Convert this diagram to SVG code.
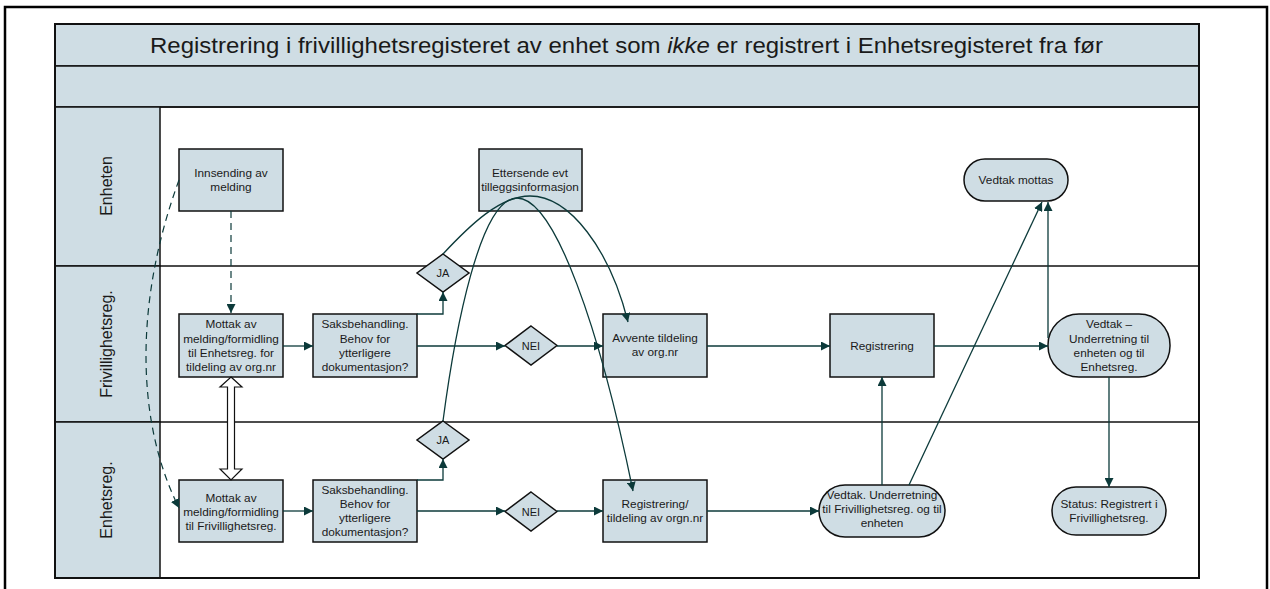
<svg xmlns="http://www.w3.org/2000/svg" width="1270" height="589" viewBox="0 0 1270 589">
<defs>
<marker id="ah" viewBox="0 0 10 10" refX="10" refY="5" markerWidth="9" markerHeight="9" markerUnits="userSpaceOnUse" orient="auto">
<path d="M0,0 L10,5 L0,10 z" fill="#0c3a3a"/>
</marker>
</defs>
<style>
text{font-family:"Liberation Sans",Arial,sans-serif;fill:#1a1a1a}
.band{fill:#cfdde4;stroke:#111;stroke-width:1.5}
.node{fill:#cfdde4;stroke:#111;stroke-width:1.5}
.t{font-size:11.8px;text-anchor:middle}
.lane{font-size:16px;text-anchor:middle}
.lane-line{stroke:#111;stroke-width:1.5;fill:none}
.ca{fill:none;stroke:#0c3a3a;stroke-width:1.3;marker-end:url(#ah)}
.dash{fill:none;stroke:#0c3a3a;stroke-width:1.2;stroke-dasharray:7,5;marker-end:url(#ah)}
</style>
<rect x="0" y="0" width="1270" height="589" fill="#fff"/>
<rect x="5" y="7" width="1262" height="620" fill="none" stroke="#000" stroke-width="2.5"/>

<g id="pool">
<rect x="55" y="24" width="1144" height="554" fill="#fff" stroke="#111" stroke-width="2"/>
<rect class="band" x="55" y="24" width="1144" height="42"/>
<rect class="band" x="55" y="66" width="1144" height="41"/>
<text x="150" y="53" textLength="953" lengthAdjust="spacingAndGlyphs" style="font-size:22px">Registrering i frivillighetsregisteret av enhet som <tspan font-style="italic">ikke</tspan> er registrert i Enhetsregisteret fra før</text>
</g>

<g id="lane-enheten">
<rect class="band" x="55" y="107" width="105" height="159"/>
<line class="lane-line" x1="160" y1="107" x2="1199" y2="107"/>
<text class="lane" transform="translate(112,186) rotate(-90)">Enheten</text>
</g>
<g id="lane-frivillighetsreg">
<rect class="band" x="55" y="266" width="105" height="156"/>
<line class="lane-line" x1="160" y1="266" x2="1199" y2="266"/>
<text class="lane" transform="translate(112,344) rotate(-90)">Frivillighetsreg.</text>
</g>
<g id="lane-enhetsreg">
<rect class="band" x="55" y="422" width="105" height="156"/>
<line class="lane-line" x1="160" y1="422" x2="1199" y2="422"/>
<text class="lane" transform="translate(112,500) rotate(-90)">Enhetsreg.</text>
</g>
<rect x="55" y="24" width="1144" height="554" fill="none" stroke="#111" stroke-width="2"/>

<g id="n-innsending">
<rect class="node" x="179" y="149" width="104" height="62"/>
<text class="t" x="231" y="177">Innsending av</text>
<text class="t" x="231" y="191">melding</text>
</g>
<g id="n-ettersende">
<rect class="node" x="479" y="149" width="103" height="62"/>
<text class="t" x="530" y="177">Ettersende evt</text>
<text class="t" x="530" y="191">tilleggsinformasjon</text>
</g>
<g id="n-vedtak-mottas">
<rect class="node" x="964" y="159" width="104" height="42" rx="21" ry="21"/>
<text class="t" x="1016" y="184">Vedtak mottas</text>
</g>

<g id="n-mottak-fri">
<rect class="node" x="179" y="314" width="104" height="63"/>
<text class="t" x="231" y="328">Mottak av</text>
<text class="t" x="231" y="343">melding/formidling</text>
<text class="t" x="231" y="357">til Enhetsreg. for</text>
<text class="t" x="231" y="371">tildeling av org.nr</text>
</g>
<g id="n-saksb-fri">
<rect class="node" x="313" y="314" width="104" height="63"/>
<text class="t" x="365" y="328">Saksbehandling.</text>
<text class="t" x="365" y="343">Behov for</text>
<text class="t" x="365" y="357">ytterligere</text>
<text class="t" x="365" y="371">dokumentasjon?</text>
</g>
<g id="n-ja-fri">
<polygon class="node" points="443,254 469,273 443,292 417,273"/>
<text class="t" x="443" y="277" style="font-size:11px">JA</text>
</g>
<g id="n-nei-fri">
<polygon class="node" points="531,326 557,345.5 531,365 505,345.5"/>
<text class="t" x="531" y="350" style="font-size:11px">NEI</text>
</g>
<g id="n-avvente">
<rect class="node" x="603" y="314" width="104" height="63"/>
<text class="t" x="655" y="342">Avvente tildeling</text>
<text class="t" x="655" y="356">av org.nr</text>
</g>
<g id="n-registrering">
<rect class="node" x="830" y="314" width="104" height="63"/>
<text class="t" x="882" y="350">Registrering</text>
</g>
<g id="n-vedtak-underretning">
<rect class="node" x="1048" y="314" width="122" height="63" rx="31" ry="31"/>
<text class="t" x="1109" y="328">Vedtak –</text>
<text class="t" x="1109" y="343">Underretning til</text>
<text class="t" x="1109" y="357">enheten og til</text>
<text class="t" x="1109" y="371">Enhetsreg.</text>
</g>

<g id="n-mottak-enh">
<rect class="node" x="179" y="480" width="104" height="62"/>
<text class="t" x="231" y="502">Mottak av</text>
<text class="t" x="231" y="516">melding/formidling</text>
<text class="t" x="231" y="530">til Frivillighetsreg.</text>
</g>
<g id="n-saksb-enh">
<rect class="node" x="313" y="480" width="104" height="62"/>
<text class="t" x="365" y="494">Saksbehandling.</text>
<text class="t" x="365" y="508">Behov for</text>
<text class="t" x="365" y="522">ytterligere</text>
<text class="t" x="365" y="536">dokumentasjon?</text>
</g>
<g id="n-ja-enh">
<polygon class="node" points="443,421 469,440 443,459 417,440"/>
<text class="t" x="443" y="444" style="font-size:11px">JA</text>
</g>
<g id="n-nei-enh">
<polygon class="node" points="531,492 557,511.5 531,531 505,511.5"/>
<text class="t" x="531" y="516" style="font-size:11px">NEI</text>
</g>
<g id="n-reg-tildeling">
<rect class="node" x="603" y="480" width="104" height="62"/>
<text class="t" x="655" y="508">Registrering/</text>
<text class="t" x="655" y="522">tildeling av orgn.nr</text>
</g>
<g id="n-vedtak-enh">
<rect class="node" x="819" y="485" width="126" height="52" rx="26" ry="26"/>
<text class="t" x="882" y="499">Vedtak. Underretning</text>
<text class="t" x="882" y="513">til Frivillighetsreg. og til</text>
<text class="t" x="882" y="527">enheten</text>
</g>
<g id="n-status">
<rect class="node" x="1052" y="487" width="114" height="48" rx="24" ry="24"/>
<text class="t" x="1109" y="508">Status: Registrert i</text>
<text class="t" x="1109" y="522">Frivillighetsreg.</text>
</g>

<g id="connectors">
<path class="dash" d="M231,211 L231,313"/>
<path class="dash" d="M179,180 C135,300 135,420 179,508"/>
<path d="M231,377 L242,387 L234.5,387 L234.5,469 L242,469 L231,480 L220,469 L227.5,469 L227.5,387 L220,387 Z" fill="#fff" stroke="#111" stroke-width="1.2"/>
<path class="ca" d="M283,346 L313,346"/>
<path class="ca" d="M417,314 L443,314 L443,292"/>
<path class="ca" d="M417,346 L505,346"/>
<path class="ca" d="M557,346 L603,346"/>
<path class="ca" d="M707,346 L830,346"/>
<path class="ca" d="M934,346 L1048,346"/>
<path class="ca" d="M283,511 L313,511"/>
<path class="ca" d="M417,480 L443,480 L443,459"/>
<path class="ca" d="M417,511 L505,511"/>
<path class="ca" d="M557,511 L603,511"/>
<path class="ca" d="M707,511 L819,511"/>
<path class="ca" d="M443,254 C470,225 500,196 530,196 C570,196 610,250 628,322"/>
<path class="ca" d="M443,421 C455,330 480,198 517,198 C555,198 600,330 633,491"/>
<path class="ca" d="M882,485 L882,377"/>
<path class="ca" d="M909,485 L1042,202"/>
<path class="ca" d="M1048,338 L1048,202"/>
<path class="ca" d="M1109,377 L1109,487"/>
</g>
</svg>
